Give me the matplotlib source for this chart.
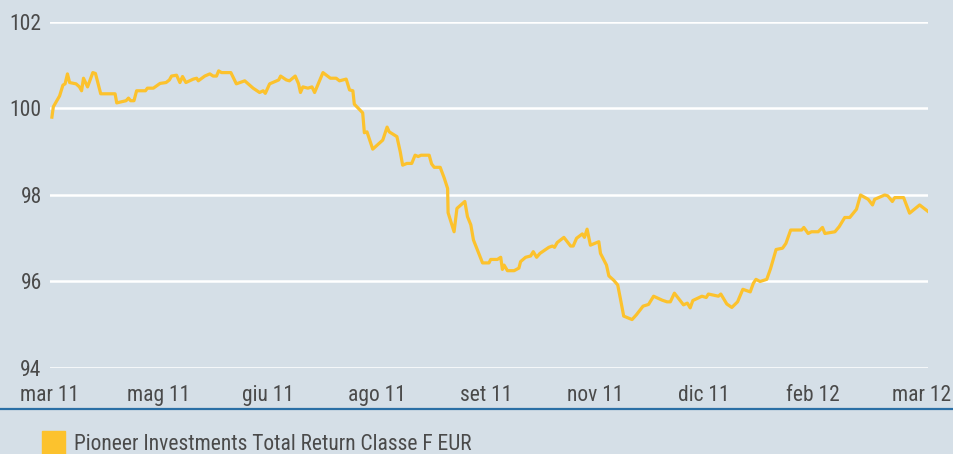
import numpy as np
import matplotlib
matplotlib.use('Agg')
import matplotlib.pyplot as plt
from matplotlib import font_manager
from matplotlib.lines import Line2D
from matplotlib.patches import Rectangle

# giorni (posizione sull'asse) e valore della quota
giorni = [0.0, 0.6, 3.2, 4.6, 5.5, 6.5, 7.4, 10.1, 11.5, 12.4, 13.2, 14.9, 17.1, 18.2,
          20.4, 26.4, 27.1, 31.0, 32.0, 32.9, 34.3, 35.4, 39.1, 39.9, 42.4, 45.2, 47.7,
          49.1, 50.0, 52.1, 53.5, 54.6, 56.0, 59.1, 60.5, 61.2, 63.9, 66.0, 67.4, 68.8,
          69.7, 70.9, 74.8, 77.1, 80.6, 84.1, 86.8, 88.3, 89.2, 91.0, 94.8, 95.6, 98.0,
          99.3, 101.7, 103.1, 103.9, 104.9, 107.0, 108.7, 109.8, 113.3, 116.4, 118.8,
          120.2, 123.0, 124.4, 125.8, 126.4, 129.9, 130.6, 131.7, 134.1, 138.3, 140.1,
          141.0, 144.2, 145.6, 146.6, 148.4, 150.4, 151.8, 153.1, 154.3, 157.7, 158.7,
          159.8, 162.3, 164.0, 165.4, 165.6, 168.1, 169.3, 172.6, 173.7, 175.1, 176.2,
          180.0, 182.7, 183.4, 186.2, 187.6, 188.3, 189.0, 190.4, 193.2, 195.2, 195.9,
          198.0, 200.1, 201.2, 202.6, 204.0, 206.4, 207.7, 209.2, 210.1, 211.2, 214.0,
          216.8, 217.9, 219.3, 221.7, 222.6, 223.7, 225.1, 228.6, 229.3, 231.8, 232.8,
          234.8, 236.5, 237.6, 239.0, 242.5, 244.3, 247.1, 249.4, 251.5, 255.0, 257.1,
          258.5, 260.2, 264.0, 265.6, 266.8, 267.9, 271.7, 273.5, 274.4, 278.6, 279.6,
          282.1, 284.2, 286.6, 288.8, 291.9, 293.2, 294.3, 296.0, 298.8, 300.4, 302.7,
          305.4, 306.8, 308.8, 313.4, 314.3, 316.1, 317.5, 320.3, 322.1, 323.1, 327.3,
          329.1, 331.4, 333.5, 336.3, 338.0, 341.2, 343.0, 343.9, 348.1, 349.4, 351.3,
          352.3, 356.0, 358.5, 362.7, 366.2]
valori = [99.80, 100.04, 100.29, 100.54, 100.57, 100.80, 100.60, 100.57, 100.50, 100.41,
          100.70, 100.50, 100.83, 100.81, 100.34, 100.34, 100.13, 100.18, 100.24, 100.18,
          100.18, 100.41, 100.41, 100.47, 100.47, 100.58, 100.60, 100.66, 100.75, 100.77,
          100.60, 100.74, 100.60, 100.68, 100.70, 100.64, 100.75, 100.80, 100.75, 100.75,
          100.87, 100.83, 100.83, 100.57, 100.64, 100.47, 100.37, 100.41, 100.35, 100.57,
          100.66, 100.75, 100.66, 100.64, 100.75, 100.57, 100.37, 100.50, 100.47, 100.50,
          100.37, 100.83, 100.70, 100.70, 100.64, 100.68, 100.43, 100.41, 100.10, 99.90,
          99.44, 99.46, 99.06, 99.27, 99.57, 99.46, 99.35, 99.00, 98.69, 98.73, 98.73,
          98.92, 98.89, 98.92, 98.92, 98.72, 98.64, 98.64, 98.39, 98.15, 97.59, 97.15,
          97.69, 97.85, 97.50, 97.31, 96.96, 96.43, 96.43, 96.51, 96.51, 96.56, 96.28,
          96.38, 96.25, 96.25, 96.31, 96.46, 96.56, 96.59, 96.69, 96.56, 96.65, 96.74,
          96.79, 96.82, 96.79, 96.90, 97.02, 96.82, 96.82, 97.00, 97.10, 97.02, 97.21,
          96.84, 96.92, 96.65, 96.38, 96.13, 96.03, 95.92, 95.61, 95.20, 95.12, 95.23,
          95.43, 95.47, 95.66, 95.57, 95.53, 95.53, 95.73, 95.46, 95.50, 95.39, 95.56,
          95.66, 95.63, 95.71, 95.66, 95.71, 95.48, 95.40, 95.53, 95.82, 95.76, 95.96,
          96.05, 96.00, 96.05, 96.30, 96.74, 96.77, 96.88, 97.19, 97.19, 97.25, 97.11,
          97.15, 97.15, 97.25, 97.11, 97.15, 97.27, 97.48, 97.48, 97.67, 98.00, 97.90,
          97.77, 97.90, 98.00, 97.98, 97.85, 97.94, 97.94, 97.58, 97.77, 97.62]

etichette_x = ['mar 11', 'mag 11', 'giu 11', 'ago 11', 'set 11',
               'nov 11', 'dic 11', 'feb 12', 'mar 12']
ticks_y = [94, 96, 98, 100, 102]
nome_serie = 'Pioneer Investments Total Return Classe F EUR'

sfondo = '#d5dfe7'
giallo = '#fcc22d'
grigio = '#4a4a4a'

# font stretto se c'è, altrimenti Liberation Sans
disponibili = {f.name for f in font_manager.fontManager.ttflist}
font = 'Liberation Sans'
dim = 13.5
for nome in ['Liberation Sans Narrow', 'Roboto Condensed', 'Open Sans Condensed']:
    if nome in disponibili:
        font = nome
        dim = 15.5
        break
plt.rcParams['font.family'] = [font, 'DejaVu Sans']

fig = plt.figure(figsize=(9.54, 4.54), dpi=100, facecolor=sfondo)
ax = fig.add_axes([50 / 954, 1 - 368 / 454, 878 / 954, 346 / 454])
ax.set_facecolor(sfondo)

ax.plot(giorni, valori, color=giallo, lw=2.3, solid_joinstyle='round', zorder=3)

ax.set_xlim(min(giorni), max(giorni))
ax.set_ylim(94, 102)
ax.set_yticks(ticks_y)
ax.set_yticklabels([str(t) for t in ticks_y])
ax.grid(axis='y', color='white', lw=1.8)
ax.set_axisbelow(True)

# etichette equidistanti come nel grafico originale
xt = np.linspace(min(giorni) - 0.8, max(giorni) - 2.5, len(etichette_x))
ax.set_xticks(xt)
ax.set_xticklabels(etichette_x)
ax.tick_params(axis='both', length=0, colors=grigio, labelsize=dim)
ax.tick_params(axis='x', pad=12)
ax.tick_params(axis='y', pad=6)
for s in ax.spines.values():
    s.set_visible(False)

# linea blu sotto le etichette
fig.add_artist(Line2D([0, 1], [1 - 408.5 / 454] * 2, color='#2a6fa5', lw=1.6,
                      transform=fig.transFigure))

# legenda
fig.add_artist(Rectangle((42 / 954, 0), 23 / 954, 23 / 454, color=giallo,
                         transform=fig.transFigure))
fig.text(74 / 954, 1 - 445 / 454, nome_serie, fontsize=dim, color=grigio, va='center')

plt.savefig('out.png', dpi=100, facecolor=sfondo)
